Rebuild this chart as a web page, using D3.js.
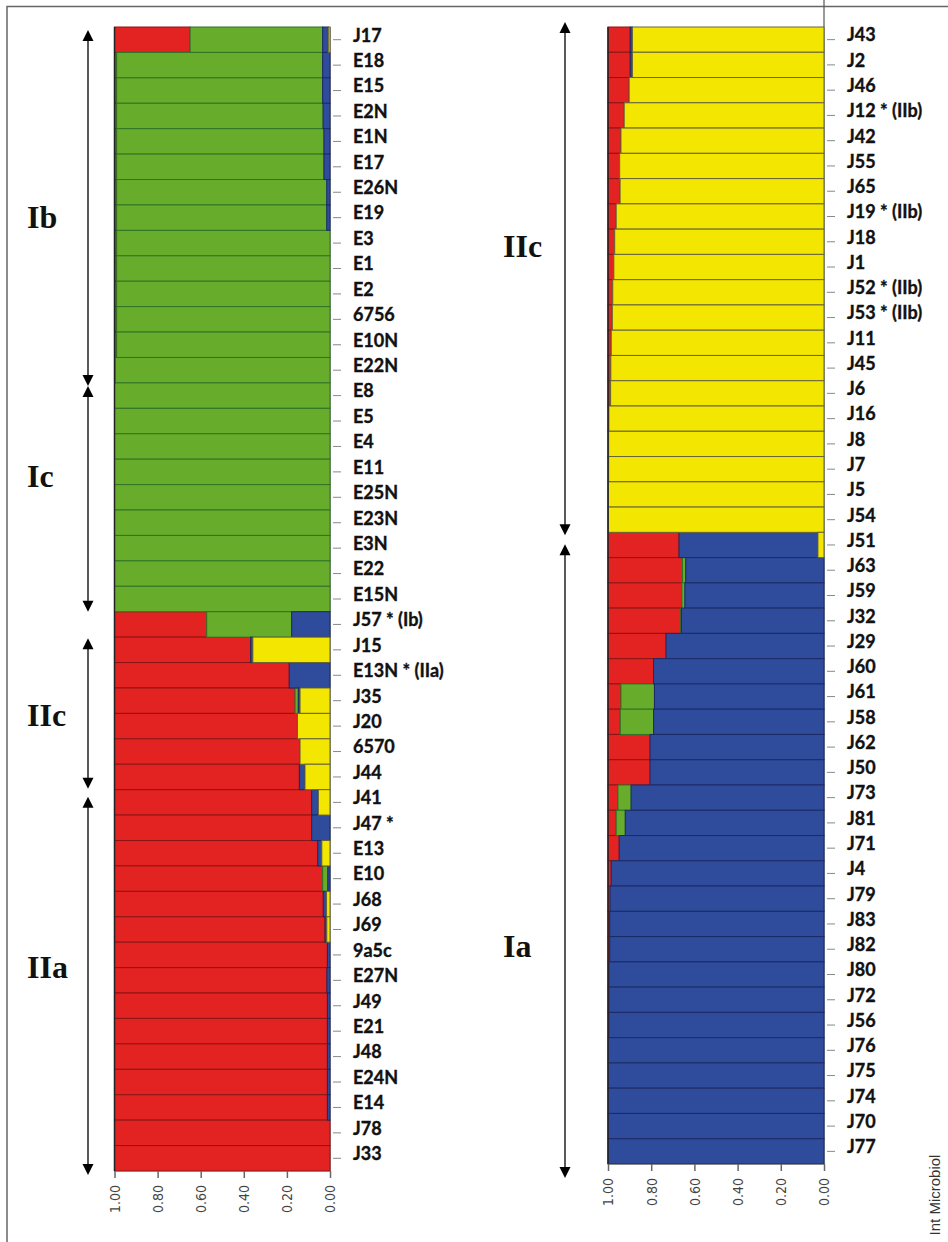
<!DOCTYPE html>
<html>
<head>
<meta charset="utf-8">
<script src="https://cdn.jsdelivr.net/npm/d3@7/dist/d3.min.js"></script>
<style>
  body { margin: 0; background: #fff; }
  svg { display: block; }
</style>
</head>
<body>
<div id="chart"></div>
<script>
/* membership coefficients per isolate (red, green, blue, yellow clusters) */
const leftLabels = ['J17', 'E18', 'E15', 'E2N', 'E1N', 'E17', 'E26N', 'E19', 'E3', 'E1', 'E2', '6756', 'E10N', 'E22N',
  'E8', 'E5', 'E4', 'E11', 'E25N', 'E23N', 'E3N', 'E22', 'E15N', 'J57 * (Ib)', 'J15', 'E13N * (IIa)', 'J35', 'J20',
  '6570', 'J44', 'J41', 'J47 *', 'E13', 'E10', 'J68', 'J69', '9a5c', 'E27N', 'J49', 'E21', 'J48', 'E24N', 'E14', 'J78', 'J33'];
const leftRed = [0.351, 0.01, 0.01, 0.01, 0.01, 0.01, 0.01, 0.01, 0.01, 0.01, 0.01, 0.01, 0.01, 0.003,
  0, 0, 0, 0, 0, 0, 0, 0, 0, 0.428, 0.632, 0.811, 0.838, 0.849,
  0.861, 0.858, 0.915, 0.915, 0.943, 0.966, 0.969, 0.977, 0.988, 0.986, 0.988, 0.988, 0.988, 0.988, 0.988, 1, 1];
const leftGreen = [0.615, 0.956, 0.956, 0.958, 0.962, 0.962, 0.975, 0.975, 0.99, 0.99, 0.99, 0.99, 0.99, 0.997,
  1, 1, 1, 1, 1, 1, 1, 1, 1, 0.394, 0, 0, 0.015, 0,
  0, 0, 0, 0, 0, 0.024, 0, 0, 0, 0, 0, 0, 0, 0, 0, 0, 0];
const leftBlue = [0.026, 0.034, 0.034, 0.032, 0.028, 0.028, 0.015, 0.015, 0, 0, 0, 0, 0, 0,
  0, 0, 0, 0, 0, 0, 0, 0, 0, 0.178, 0.01, 0.189, 0.008, 0,
  0, 0.026, 0.031, 0.085, 0.019, 0.01, 0.015, 0.008, 0.012, 0.014, 0.012, 0.012, 0.012, 0.012, 0.012, 0, 0];
const leftYellow = [0.008, 0, 0, 0, 0, 0, 0, 0, 0, 0, 0, 0, 0, 0,
  0, 0, 0, 0, 0, 0, 0, 0, 0, 0, 0.358, 0, 0.139, 0.151,
  0.139, 0.116, 0.054, 0, 0.038, 0, 0.016, 0.015, 0, 0, 0, 0, 0, 0, 0, 0, 0];

const rightLabels = ['J43', 'J2', 'J46', 'J12 * (IIb)', 'J42', 'J55', 'J65', 'J19 * (IIb)', 'J18', 'J1', 'J52 * (IIb)',
  'J53 * (IIb)', 'J11', 'J45', 'J6', 'J16', 'J8', 'J7', 'J5', 'J54', 'J51', 'J63', 'J59', 'J32', 'J29', 'J60', 'J61',
  'J58', 'J62', 'J50', 'J73', 'J81', 'J71', 'J4', 'J79', 'J83', 'J82', 'J80', 'J72', 'J56', 'J76', 'J75', 'J74', 'J70', 'J77'];
const rightRed = [0.103, 0.103, 0.098, 0.075, 0.06, 0.054, 0.056, 0.038, 0.031, 0.027, 0.022,
  0.02, 0.015, 0.013, 0.012, 0.004, 0.003, 0.003, 0.002, 0.002, 0.329, 0.345, 0.342, 0.337, 0.269, 0.211, 0.06,
  0.057, 0.195, 0.195, 0.046, 0.038, 0.052, 0.015, 0.01, 0.008, 0.008, 0.004, 0.004, 0.004, 0, 0, 0, 0, 0];
const rightGreen = [0, 0, 0, 0, 0, 0, 0, 0, 0, 0, 0,
  0, 0, 0, 0, 0, 0, 0, 0, 0, 0, 0.015, 0.014, 0.003, 0, 0, 0.155,
  0.154, 0, 0, 0.061, 0.042, 0, 0, 0, 0, 0, 0, 0, 0, 0, 0, 0, 0, 0];
const rightBlue = [0.01, 0.01, 0, 0, 0, 0, 0, 0, 0, 0, 0,
  0, 0, 0, 0, 0, 0, 0, 0, 0, 0.643, 0.64, 0.644, 0.66, 0.731, 0.789, 0.785,
  0.789, 0.805, 0.805, 0.893, 0.92, 0.948, 0.985, 0.99, 0.992, 0.992, 0.996, 0.996, 0.996, 1, 1, 1, 1, 1];
const rightYellow = [0.887, 0.887, 0.902, 0.925, 0.94, 0.946, 0.944, 0.962, 0.969, 0.973, 0.978,
  0.98, 0.985, 0.987, 0.988, 0.996, 0.997, 0.997, 0.998, 0.998, 0.028, 0, 0, 0, 0, 0, 0,
  0, 0, 0, 0, 0, 0, 0, 0, 0, 0, 0, 0, 0, 0, 0, 0, 0, 0];

const valueTicks = [1, 0.8, 0.6, 0.4, 0.2, 0];

/* cluster groups shown with arrows beside each panel */
const leftGroups = [
  { name: 'Ib', from: 'J17', to: 'E22N' },
  { name: 'Ic', from: 'E8', to: 'E15N' },
  { name: 'IIc', from: 'J15', to: 'J44' },
  { name: 'IIa', from: 'J41', to: 'J33' }
];
const rightGroups = [
  { name: 'IIc', from: 'J43', to: 'J54' },
  { name: 'Ia', from: 'J51', to: 'J77' }
];

const keys = ['red', 'green', 'blue', 'yellow'];
const fills = { red: '#e32222', green: '#67ad2b', blue: '#2f4b9b', yellow: '#f3e600' };
const strokes = { red: '#8c1515', green: '#2e7424', blue: '#1c2a66', yellow: '#66643a' };

const W = 948;
const H = 1242;

const svg = d3.select('#chart')
  .append('svg')
  .attr('width', W)
  .attr('height', H);

/* frame: left and top edge of the figure box */
svg.append('path')
  .attr('d', 'M7,' + H + 'V6.5H' + W)
  .attr('fill', 'none')
  .attr('stroke', '#666')
  .attr('stroke-width', 1.5);

/* annotation nudges (arrow tip offsets and label positions), in pixels / rows */
const leftLayout = {
  arrowX: 88,
  labelX: 27,
  nudge: { Ib: [3, 3, 7.9], Ic: [3, 0, 18.1], IIc: [1, -1, 27.5], IIa: [7, 4, 37.4] }
};
const rightLayout = {
  arrowX: 565,
  labelX: 503,
  nudge: { IIc: [-5, 3, 9.1], Ia: [12, 14, 36.8] }
};

function drawPanel (opt) {
  const rows = opt.labels.map(function (l, i) {
    return { label: l, red: opt.red[i], green: opt.green[i], blue: opt.blue[i], yellow: opt.yellow[i] };
  });

  const x = d3.scaleLinear().domain([1, 0]).range([opt.left, opt.right]);
  const y = d3.scaleBand().domain(opt.labels).range([opt.top, opt.bottom]).padding(0);

  const g = svg.append('g');

  /* right-hand axis line (the right panel's runs to the top of the page) */
  g.append('line')
    .attr('x1', x(0)).attr('x2', x(0))
    .attr('y1', opt.axisTop).attr('y2', opt.bottom)
    .attr('stroke', '#555')
    .attr('stroke-width', 1.2);

  const layers = d3.stack().keys(keys)(rows);

  g.selectAll('g.layer')
    .data(layers)
    .enter()
    .append('g')
    .attr('class', 'layer')
    .attr('fill', function (d) { return fills[d.key]; })
    .attr('stroke', function (d) { return strokes[d.key]; })
    .attr('stroke-width', 1)
    .selectAll('rect')
    .data(function (d) { return d.filter(function (s) { return s[1] - s[0] > 0.0005; }); })
    .enter()
    .append('rect')
    .attr('x', function (d) { return x(1 - d[0]); })
    .attr('y', function (d) { return y(d.data.label); })
    .attr('width', function (d) { return x(1 - d[1]) - x(1 - d[0]); })
    .attr('height', y.bandwidth());

  /* dark left edge of the bars */
  g.append('line')
    .attr('x1', x(1)).attr('x2', x(1))
    .attr('y1', opt.top).attr('y2', opt.bottom)
    .attr('stroke', '#222')
    .attr('stroke-width', 1.5);

  /* isolate labels on the right */
  const cat = g.append('g')
    .attr('transform', 'translate(' + (x(0) + 3) + ',0)')
    .call(d3.axisRight(y).tickSize(8).tickPadding(12));
  cat.select('.domain').remove();
  cat.selectAll('line').attr('stroke', '#888');
  cat.selectAll('text')
    .attr('dy', '0.1em')
    .style('font-family', 'Lato, "Open Sans", sans-serif')
    .style('font-weight', 700)
    .style('font-size', '18px')
    .attr('fill', '#111')
    .attr('stroke', '#111')
    .attr('stroke-width', 0.35);

  /* value axis along the bottom */
  const val = g.append('g')
    .attr('transform', 'translate(0,' + opt.bottom + ')')
    .call(d3.axisBottom(x).tickValues(valueTicks).tickFormat(d3.format('.2f')).tickSize(7).tickSizeOuter(0));
  val.select('.domain').attr('stroke', '#888');
  val.selectAll('line').attr('stroke', '#666').attr('stroke-width', 1.5);
  val.selectAll('text')
    .attr('transform', 'rotate(-90)')
    .attr('text-anchor', 'end')
    .attr('x', -14)
    .attr('y', 0)
    .attr('dy', '0.35em')
    .style('font-family', '"Liberation Sans Narrow", "Arial Narrow", "DejaVu Sans Condensed", sans-serif')
    .style('font-size', '14px')
    .attr('fill', '#444');

  /* group arrows and names */
  const step = y.step();
  opt.groups.forEach(function (grp) {
    const n = opt.layout.nudge[grp.name];
    const y1 = y(grp.from) + n[0];
    const y2 = y(grp.to) + y.bandwidth() + n[1];
    const ax = opt.layout.arrowX;
    g.append('line')
      .attr('x1', ax).attr('x2', ax)
      .attr('y1', y1 + 6).attr('y2', y2 - 6)
      .attr('stroke', '#000')
      .attr('stroke-width', 1.3);
    g.append('path')
      .attr('d', 'M' + ax + ',' + y1 + 'l5.5,11h-11z')
      .attr('fill', '#000');
    g.append('path')
      .attr('d', 'M' + ax + ',' + y2 + 'l5.5,-11h-11z')
      .attr('fill', '#000');
    g.append('text')
      .attr('x', opt.layout.labelX)
      .attr('y', opt.top + n[2] * step)
      .text(grp.name)
      .style('font-family', '"Liberation Serif", "DejaVu Serif", serif')
      .style('font-weight', 700)
      .style('font-size', '32px')
      .attr('fill', '#111');
  });
}

drawPanel({
  labels: leftLabels, red: leftRed, green: leftGreen, blue: leftBlue, yellow: leftYellow,
  left: 114.5, right: 330, top: 27, bottom: 1171, axisTop: 27,
  groups: leftGroups, layout: leftLayout
});

drawPanel({
  labels: rightLabels, red: rightRed, green: rightGreen, blue: rightBlue, yellow: rightYellow,
  left: 608, right: 824, top: 27, bottom: 1164, axisTop: 0,
  groups: rightGroups, layout: rightLayout
});

/* journal credit */
svg.append('text')
  .attr('transform', 'translate(940,1195) rotate(-90)')
  .attr('text-anchor', 'middle')
  .text('Int Microbiol')
  .style('font-family', '"Liberation Sans", Arial, sans-serif')
  .style('font-size', '15px')
  .attr('fill', '#333');
</script>
</body>
</html>
